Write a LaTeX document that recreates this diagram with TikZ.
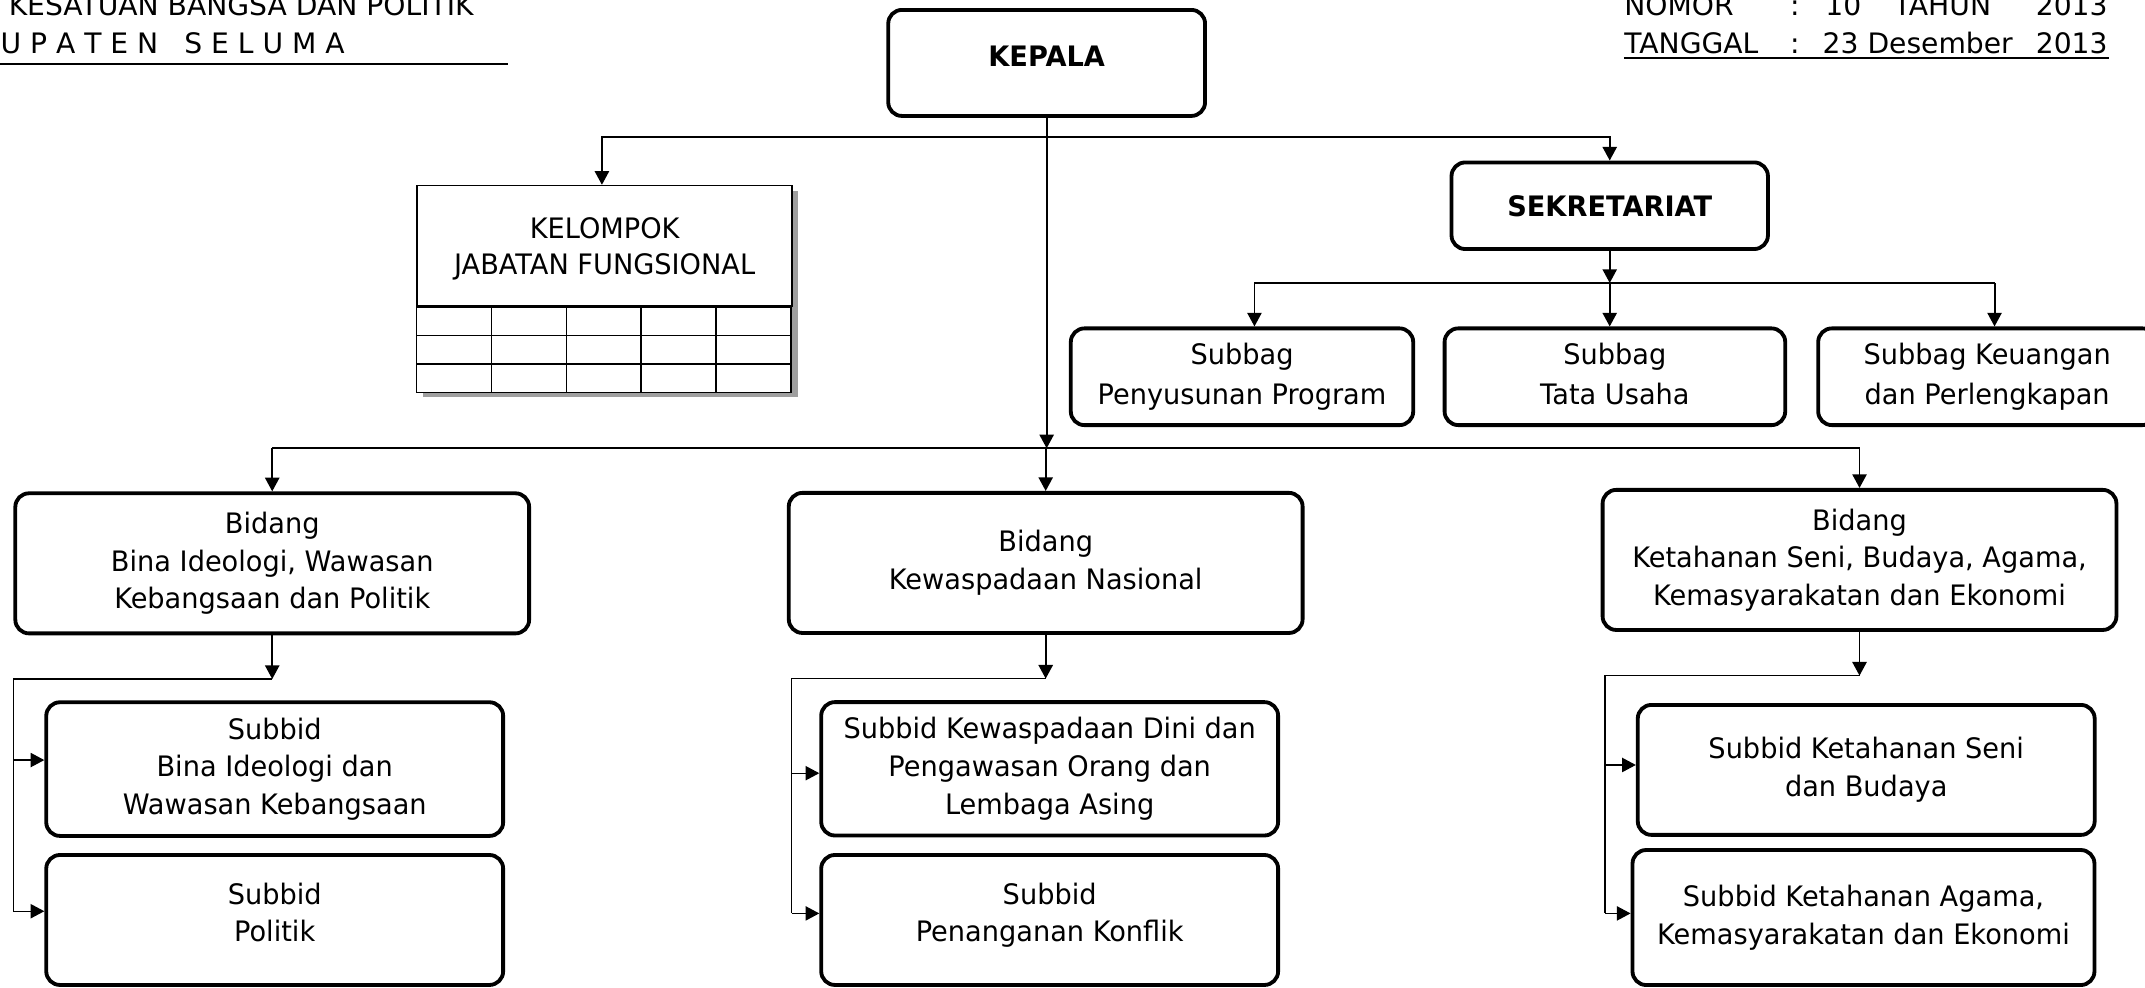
\documentclass[tikz,border=0pt]{standalone}
\usepackage{fontspec}
\setmainfont[FakeStretch=0.965]{DejaVu Sans}
\newfontfamily\kopfont{DejaVu Sans}
\usetikzlibrary{arrows.meta}
\AtBeginDocument{\fontsize{10.3}{13.75}\selectfont}
\tikzset
    { unit box/.style =
        { draw, line width=1.4pt, rounded corners=5pt
        , align=center, inner sep=0pt
        }
    , subbag box/.style =
        { unit box, minimum height=35.35pt
        , font=\fontsize{10.3}{14.4}\selectfont
        }
    , bidang box/.style = {unit box, minimum width=187.8pt, minimum height=51.2pt}
    , subbid box/.style = {unit box, minimum width=167pt}
    , hdr/.style = {anchor=base west, inner sep=0pt, font=\kopfont}
    , conn/.style = {line width=0.7pt}
    , sub/.style = {line width=0.5pt}
    }

\begin{document}
\begin{tikzpicture}[x=0.5pt, y=-0.5pt, >={Triangle[length=5pt, width=5.2pt]}]

    \useasboundingbox (0,0) rectangle (1568,722.2);
    \clip (0,0) rectangle (1568,722.2);

    % kop kiri
    \node[hdr] (kop1) at (6,11) {KESATUAN BANGSA DAN POLITIK};
    \node[hdr] (kop2) at (0,39) {U P A T E N\hspace{9.5pt}S E L U M A};
    \draw[line width=0.6pt] (0,47) -- (371,47);

    % kop kanan
    \node[hdr] (nomor) at (1187,11) {NOMOR};
    \node[hdr, anchor=base] (nomor-c) at (1312,11) {:};
    \node[hdr] (nomor-n) at (1334,11) {10};
    \node[hdr] (nomor-t) at (1384,11) {TAHUN};
    \node[hdr, anchor=base east] (nomor-y) at (1541,11) {2013};
    \node[hdr] (tgl) at (1187,39) {TANGGAL};
    \node[hdr, anchor=base] (tgl-c) at (1312,39) {:};
    \node[hdr] (tgl-d) at (1332,39) {23 Desember};
    \node[hdr, anchor=base east] (tgl-y) at (1541,39) {2013};
    \draw[line width=0.5pt] (1187,42.5) -- (1542,42.5);

    % pimpinan dan sekretariat
    \node[unit box, minimum width=115.8pt, minimum height=38.75pt, font=\bfseries, text depth=5pt]
        (kepala) at (765.1,46) {KEPALA};
    \node[unit box, minimum width=115.65pt, minimum height=31.65pt, font=\bfseries]
        (sekr) at (1176.7,150.4) {SEKRETARIAT};

    % kelompok jabatan fungsional
    \fill[gray!75] (309,139.7) rectangle (583,290.3);
    \node[draw, line width=0.6pt, fill=white, minimum width=137pt, minimum height=44pt,
          inner sep=0pt, align=center, font=\fontsize{10.3}{13}\selectfont]
        (kjf) at (442,179.7) {KELOMPOK\\\raisebox{0pt}[\height][0pt]{JABATAN FUNGSIONAL}};
    \filldraw[fill=white, line width=0.6pt] (kjf.south west) rectangle ++(274,62.6);
    \foreach \r in {1,2} \draw[line width=0.6pt] (kjf.south west) ++(0,{\r*20.9}) -- ++(274,0);
    \foreach \c in {1,...,4} \draw[line width=0.6pt] (kjf.south west) ++({\c*54.8},0) -- ++(0,62.6);

    % subbagian
    \node[subbag box, minimum width=125.15pt] (spp) at (907.9,275.4) {Subbag\\Penyusunan Program};
    \node[subbag box, minimum width=124.5pt] (sta) at (1180.5,275.4) {Subbag\\Tata Usaha\vphantom{g}};
    \node[subbag box, minimum width=123.5pt] (skp) at (1452.6,275.4) {Subbag Keuangan\\dan Perlengkapan};

    % bidang
    \node[bidang box] (bid1) at (199,411.8) {Bidang\\Bina Ideologi, Wawasan\\Kebangsaan dan Politik};
    \node[bidang box] (bid2) at (764.4,411.5) {Bidang\\Kewaspadaan Nasional};
    \node[bidang box] (bid3) at (1359.3,409.3) {Bidang\\Ketahanan Seni, Budaya, Agama,\\Kemasyarakatan dan Ekonomi};

    % subbidang
    \node[subbid box, minimum height=48.85pt] (sb11) at (200.8,562.2) {Subbid\\Bina Ideologi dan\\Wawasan Kebangsaan};
    \node[subbid box, minimum height=47.5pt] (sb12) at (200.8,672.5) {Subbid\\Politik\\[-8pt]\mbox{}};
    \node[subbid box, minimum height=48.75pt] (sb21) at (767.3,562) {Subbid Kewaspadaan Dini dan\\Pengawasan Orang dan\\Lembaga Asing};
    \node[subbid box, minimum height=47.5pt] (sb22) at (767.3,672.5) {Subbid\\Penanganan Konflik\\[-8pt]\mbox{}};
    \node[subbid box, minimum height=47.5pt] (sb31) at (1364.2,562.8) {Subbid Ketahanan Seni\\dan Budaya};
    \node[subbid box, minimum width=168.85pt, minimum height=49.35pt] (sb32) at (1362.2,670.7) {Subbid Ketahanan Agama,\\Kemasyarakatan dan Ekonomi};

    % garis komando
    \coordinate (split) at (kepala.south |- 0,100);
    \coordinate (kbus) at (kepala.south |- 0,327.7);
    \coordinate (kjf-in) at ([xshift=-1pt]kjf.north);
    \draw[conn, ->] (kepala.south) -- (kbus);
    \draw[conn, ->] (split) -| (kjf-in);
    \draw[conn, ->] (split) -| (sekr.north);

    \draw[conn, ->] (sekr.south) -- ++(0,23.4) coordinate (sbus);
    \coordinate (spp-in) at ([xshift=4.55pt]spp.north);
    \coordinate (skp-in) at ([xshift=2.7pt]skp.north);
    \draw[conn] (spp-in |- sbus) -- (skp-in |- sbus);
    \draw[conn, ->] (spp-in |- sbus) -- (spp-in);
    \draw[conn, ->] (sbus) -- (sbus |- sta.north);
    \draw[conn, ->] (skp-in |- sbus) -- (skp-in);

    \draw[conn] (bid1.north |- kbus) -- (bid3.north |- kbus);
    \foreach \b in {1,2,3} \draw[conn, ->] (bid\b.north |- kbus) -- (bid\b.north);

    \foreach \b/\dx/\ya/\yb in {1/0pt/3.3pt/3.2pt, 2/1.7pt/-1.6pt/2.4pt, 3/1.6pt/1.8pt/1.5pt}
    {
        \draw[conn, ->] (bid\b.south) -- ++(0,32) coordinate (b\b);
        \coordinate (v\b) at ([xshift=\dx]bid\b.south west);
        \coordinate (a\b) at ([yshift=\ya]sb\b1.west);
        \coordinate (c\b) at ([yshift=\yb]sb\b2.west);
        \draw[sub] (b\b) -- (b\b -| v\b) -- (v\b |- c\b);
        \draw[sub, ->] (v\b |- a\b) -- (a\b);
        \draw[sub, ->] (v\b |- c\b) -- (c\b);
    }

\end{tikzpicture}
\end{document}
